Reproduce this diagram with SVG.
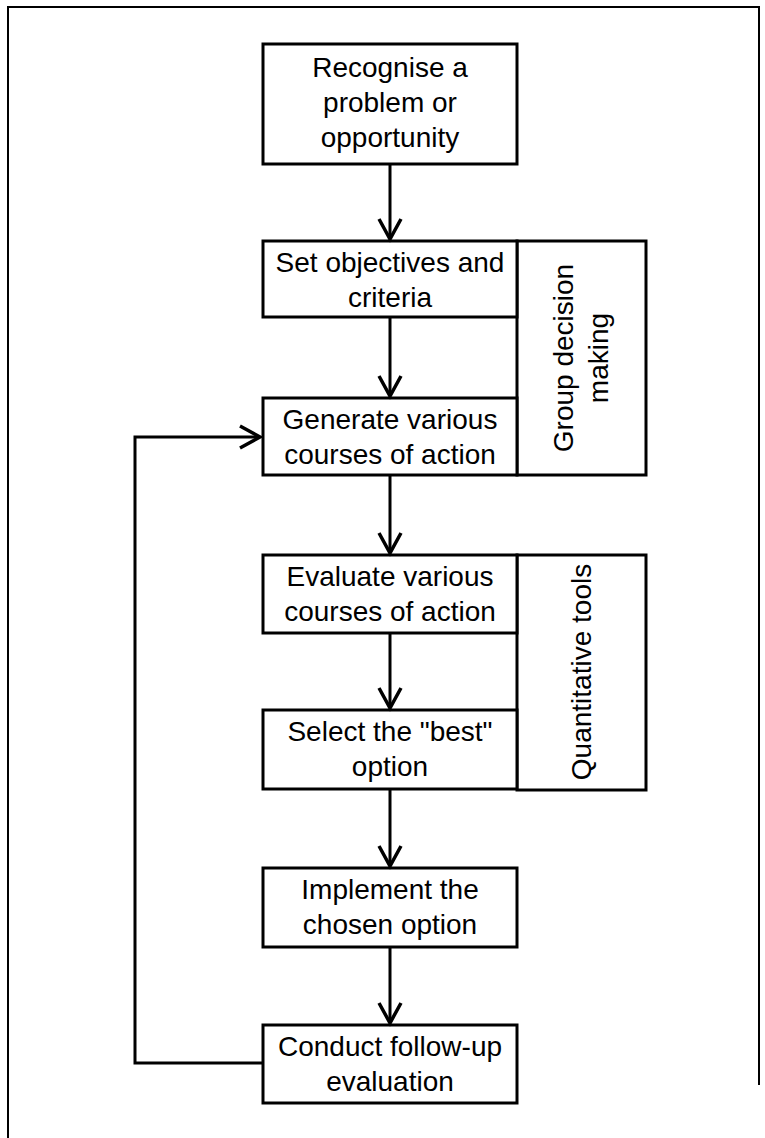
<svg xmlns="http://www.w3.org/2000/svg" width="765" height="1138" viewBox="0 0 765 1138">
  <style>
    .box { fill: #ffffff; stroke: #000000; stroke-width: 3; }
    .frame { fill: none; stroke: #000000; stroke-width: 2; }
    .lbl { font-family: "Liberation Sans", Arial, sans-serif; font-size: 28px; fill: #000000; text-anchor: middle; }
    .conn { fill: none; stroke: #000000; stroke-width: 3; }
  </style>
  <defs>
    <marker id="arrow" markerUnits="userSpaceOnUse" viewBox="-24 -14 28 28" refX="0" refY="0" markerWidth="28" markerHeight="28" orient="auto">
      <path d="M -20 -11 L 0 0 L -20 11" fill="none" stroke="#000000" stroke-width="3.5"/>
    </marker>
  </defs>

  <rect width="765" height="1138" fill="#ffffff"/>

  <!-- page frame -->
  <path class="frame" d="M 8 1138 V 7 H 759 V 1085"/>

  <!-- side panels -->
  <g id="group-decision">
    <rect class="box" x="517" y="241" width="129" height="234"/>
    <text class="lbl" transform="translate(581 358) rotate(-90)"><tspan x="0" y="-8">Group decision</tspan><tspan x="0" y="27">making</tspan></text>
  </g>
  <g id="quantitative-tools">
    <rect class="box" x="517" y="555" width="129" height="235"/>
    <text class="lbl" transform="translate(591 672) rotate(-90)" x="0" y="0">Quantitative tools</text>
  </g>

  <!-- process steps -->
  <g id="recognise">
    <rect class="box" x="263" y="44" width="254" height="120"/>
    <text class="lbl"><tspan x="390" y="77">Recognise a</tspan><tspan x="390" y="112">problem or</tspan><tspan x="390" y="147">opportunity</tspan></text>
  </g>
  <g id="objectives">
    <rect class="box" x="263" y="241" width="254" height="76"/>
    <text class="lbl"><tspan x="390" y="272">Set objectives and</tspan><tspan x="390" y="307">criteria</tspan></text>
  </g>
  <g id="generate">
    <rect class="box" x="263" y="398" width="254" height="77"/>
    <text class="lbl"><tspan x="390" y="429">Generate various</tspan><tspan x="390" y="464">courses of action</tspan></text>
  </g>
  <g id="evaluate">
    <rect class="box" x="263" y="555" width="254" height="78"/>
    <text class="lbl"><tspan x="390" y="586">Evaluate various</tspan><tspan x="390" y="621">courses of action</tspan></text>
  </g>
  <g id="select">
    <rect class="box" x="263" y="710" width="254" height="79"/>
    <text class="lbl"><tspan x="390" y="741">Select the "best"</tspan><tspan x="390" y="776">option</tspan></text>
  </g>
  <g id="implement">
    <rect class="box" x="263" y="868" width="254" height="79"/>
    <text class="lbl"><tspan x="390" y="899">Implement the</tspan><tspan x="390" y="934">chosen option</tspan></text>
  </g>
  <g id="follow-up">
    <rect class="box" x="263" y="1025" width="254" height="78"/>
    <text class="lbl"><tspan x="390" y="1056">Conduct follow-up</tspan><tspan x="390" y="1091">evaluation</tspan></text>
  </g>

  <!-- connectors -->
  <g id="connectors">
    <path class="conn" d="M 390 164 V 239" marker-end="url(#arrow)"/>
    <path class="conn" d="M 390 317 V 396" marker-end="url(#arrow)"/>
    <path class="conn" d="M 390 475 V 553" marker-end="url(#arrow)"/>
    <path class="conn" d="M 390 633 V 708" marker-end="url(#arrow)"/>
    <path class="conn" d="M 390 789 V 866" marker-end="url(#arrow)"/>
    <path class="conn" d="M 390 947 V 1023" marker-end="url(#arrow)"/>
    <path class="conn" d="M 263 1063 H 135 V 437 H 260" marker-end="url(#arrow)"/>
  </g>
</svg>
